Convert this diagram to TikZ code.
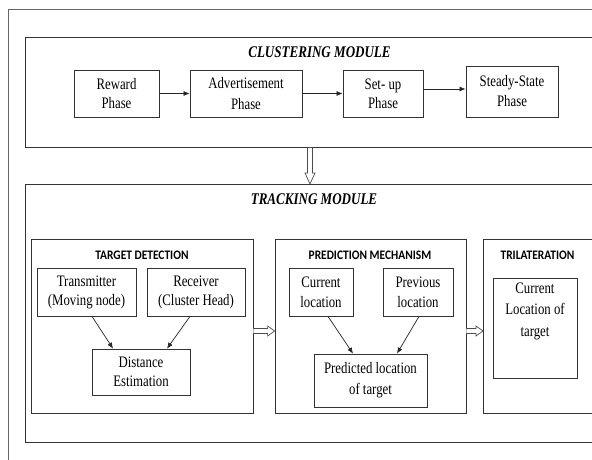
\documentclass[tikz,border=0pt]{standalone}
\usepackage{fontspec}
\setmainfont{Liberation Serif}
\newfontfamily\tallserif[FakeStretch=0.8]{Liberation Serif}
\newfontfamily\headfont[FakeStretch=0.88]{Carlito}
\usetikzlibrary{arrows.meta,calc}
\begin{document}
\begin{tikzpicture}[x=1pt,y=-1pt,
  box/.style={draw=black!80,line width=0.8pt,inner sep=0pt,align=center,font=\tallserif\fontsize{16}{19}\selectfont},
  head/.style={inner sep=0pt,font=\headfont\bfseries\fontsize{13}{15}\selectfont},
  title/.style={inner sep=0pt,font=\tallserif\bfseries\itshape\fontsize{16.3}{18}\selectfont},
  arr/.style={draw=black!85,line width=0.7pt,-{Latex[length=6pt,width=5pt]}},
  hollow/.style={draw=black!70,line width=0.7pt,fill=white,line join=miter}]
\clip (0,0) rectangle (592,459);
\fill[white] (0,0) rectangle (592,459);
% outer frame
\draw[draw=black!60,line width=0.8pt] (8,9) rectangle (640,490);
% clustering module
\node[box,minimum width=620,minimum height=110,anchor=north west] (cm) at (25,37) {};
\node[title] (cmt) at (319.5,52) {CLUSTERING MODULE};
\node[box,minimum width=85,minimum height=47] (rw) at (116.5,93.5) {Reward\\Phase};
\node[box,minimum width=112,minimum height=47,font=\tallserif\fontsize{16}{21}\selectfont] (ad) at (246,93.5) {Advertisement\\Phase};
\node[box,minimum width=80,minimum height=47] (su) at (383,93.5) {Set- up\\Phase};
\node[box,minimum width=92,minimum height=51,font=\tallserif\fontsize{16}{20}\selectfont] (st) at (512,91.5) {Steady-State\\Phase};
\draw[arr] (rw.east) -- (ad.west);
\draw[arr] (ad.east) -- (su.west);
\draw[arr] ([yshift=4.5pt]su.east) -- ([yshift=2.5pt]st.west);
% tracking module
\node[box,minimum width=620,minimum height=258,anchor=north west] (tm) at (25,184) {};
\node[title] (tmt) at (314,199) {TRACKING MODULE};
% down hollow arrow
\coordinate (dx) at (310,0);
\coordinate (ds) at (cm.south -| dx);
\coordinate (de2) at (tm.north -| dx);
\draw[hollow] ($(ds)+(-2.5,0)$) -- ($(de2)+(-2.5,-11)$) -- ($(de2)+(-5,-11)$) -- (de2)
  -- ($(de2)+(5,-11)$) -- ($(de2)+(2.5,-11)$) -- ($(ds)+(2.5,0)$);
% target detection
\node[box,minimum width=222,minimum height=174] (td) at (142,326) {};
\node[head] (tdt) at (142,255) {TARGET DETECTION};
\node[box,minimum width=99,minimum height=48] (tx) at (86.5,292) {Transmitter\\(Moving node)};
\node[box,minimum width=98,minimum height=48] (rx) at (196,292) {Receiver\\(Cluster Head)};
\node[box,minimum width=98,minimum height=46] (de) at (141,372) {Distance\\Estimation};
\draw[arr] ([xshift=5.5pt]tx.south) -- ([xshift=-28pt]de.north);
\draw[arr] ([xshift=-6pt]rx.south) -- ([xshift=26pt]de.north);
% prediction mechanism
\node[box,minimum width=191,minimum height=174] (pm) at (370.5,326) {};
\node[head] (pmt) at (370,255) {PREDICTION MECHANISM};
\node[box,minimum width=64,minimum height=48,font=\tallserif\fontsize{16}{20}\selectfont] (cur) at (321,292) {Current\\location};
\node[box,minimum width=70,minimum height=48,font=\tallserif\fontsize{16}{20}\selectfont] (prev) at (418,292) {Previous\\location};
\node[box,minimum width=113,minimum height=53,font=\tallserif\fontsize{16}{21}\selectfont] (pred) at (370.5,380.5) {Predicted location\\of target};
\draw[arr] ([xshift=7pt]cur.south) -- ([xshift=-17.5pt]pred.north);
\draw[arr] ([xshift=1pt]prev.south) -- ([xshift=26.5pt]pred.north);
% trilateration
\node[box,minimum width=150,minimum height=174,anchor=north west] (tri) at (483,239) {};
\node[head] (trit) at (537.5,255) {TRILATERATION};
\node[box,minimum width=84,minimum height=100] (cloc) at (535,328) {};
\node[anchor=north,inner sep=0pt,align=center,font=\tallserif\fontsize{16}{21.5}\selectfont] (cloct) at ([yshift=-5pt]cloc.north) {Current\\Location of\\target};
% hollow right arrows
\coordinate (hy) at (0,331);
\coordinate (h1s) at (td.east |- hy);
\coordinate (h1e) at (pm.west |- hy);
\draw[hollow] ($(h1s)+(0,-2.5)$) -- ($(h1e)+(-7,-2.5)$) -- ($(h1e)+(-7,-5)$) -- (h1e)
  -- ($(h1e)+(-7,5)$) -- ($(h1e)+(-7,2.5)$) -- ($(h1s)+(0,2.5)$);
\coordinate (h2s) at (pm.east |- hy);
\coordinate (h2e) at (tri.west |- hy);
\draw[hollow] ($(h2s)+(0,-2.5)$) -- ($(h2e)+(-7,-2.5)$) -- ($(h2e)+(-7,-5)$) -- (h2e)
  -- ($(h2e)+(-7,5)$) -- ($(h2e)+(-7,2.5)$) -- ($(h2s)+(0,2.5)$);
\end{tikzpicture}
\end{document}
